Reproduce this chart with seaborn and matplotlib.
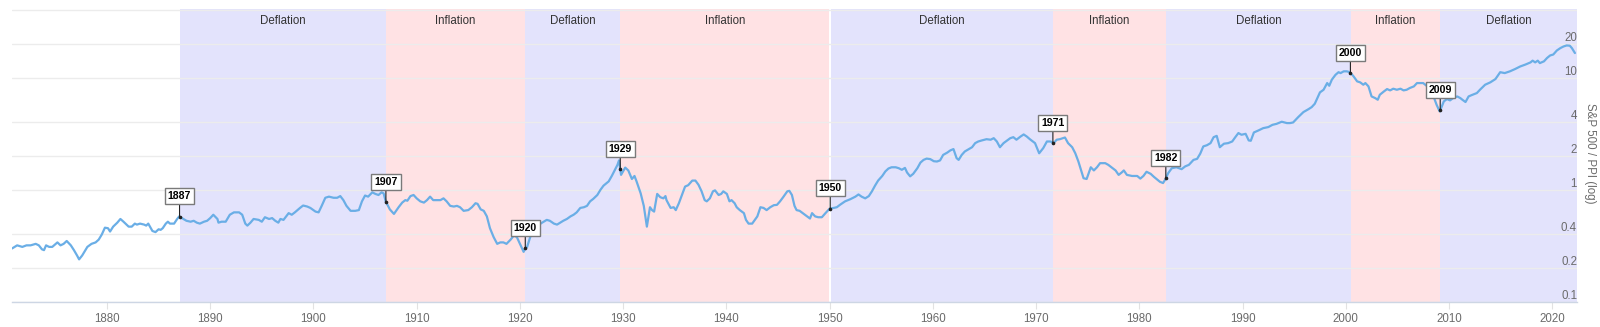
import numpy as np
import pandas as pd
import matplotlib
matplotlib.use("Agg")
import matplotlib.pyplot as plt
import seaborn as sns
from matplotlib.ticker import FixedLocator, NullLocator, FixedFormatter

# ---------------- data ----------------
years = [
    1870.8, 1871.3, 1871.8, 1872.2, 1872.6, 1873.1, 1873.4, 1873.7, 1873.9, 1874.1,
    1874.4, 1874.7, 1875.2, 1875.5, 1875.8, 1876.1, 1876.5, 1876.8, 1877.1, 1877.3,
    1877.6, 1878.1, 1878.5, 1878.9, 1879.2, 1879.5, 1879.8, 1880.1, 1880.3, 1880.6,
    1881.0, 1881.3, 1881.6, 1882.1, 1882.4, 1882.7, 1882.9, 1883.2, 1883.6, 1883.8,
    1884.0, 1884.4, 1884.7, 1885.0, 1885.2, 1885.4, 1885.7, 1885.9, 1886.1, 1886.5,
    1886.8, 1887.0, 1887.4, 1887.7, 1888.1, 1888.4, 1888.7, 1889.0, 1889.4, 1889.7,
    1890.0, 1890.3, 1890.7, 1890.8, 1891.1, 1891.5, 1891.9, 1892.3, 1892.8, 1893.1,
    1893.4, 1893.6, 1893.9, 1894.2, 1894.7, 1895.0, 1895.3, 1895.7, 1896.0, 1896.3,
    1896.6, 1896.8, 1897.1, 1897.6, 1897.9, 1898.2, 1898.7, 1899.0, 1899.4, 1899.7,
    1900.2, 1900.5, 1900.8, 1901.15, 1901.5, 1901.95, 1902.3, 1902.6, 1902.9, 1903.2,
    1903.6, 1904.05, 1904.4, 1904.7, 1905.0, 1905.3, 1905.7, 1906.0, 1906.3, 1906.6,
    1906.8, 1907.0, 1907.4, 1907.8, 1908.25, 1908.6, 1908.9, 1909.1, 1909.4, 1909.7,
    1910.0, 1910.35, 1910.7, 1911.0, 1911.3, 1911.6, 1912.0, 1912.3, 1912.6, 1912.9,
    1913.25, 1913.6, 1913.9, 1914.2, 1914.55, 1915.0, 1915.35, 1915.7, 1915.9, 1916.2,
    1916.5, 1916.8, 1917.1, 1917.45, 1917.8, 1918.1, 1918.4, 1918.7, 1919.1, 1919.4,
    1919.7, 1920.0, 1920.36, 1920.5, 1920.7, 1921.0, 1921.3, 1921.65, 1922.0, 1922.3,
    1922.6, 1922.9, 1923.3, 1923.6, 1923.9, 1924.2, 1924.55, 1924.9, 1925.2, 1925.5,
    1925.85, 1926.2, 1926.5, 1926.8, 1927.1, 1927.5, 1927.8, 1928.1, 1928.6, 1928.9,
    1929.2, 1929.45, 1929.6, 1929.8, 1930.2, 1930.5, 1930.85, 1931.1, 1931.3, 1931.7,
    1932.0, 1932.3, 1932.6, 1932.8, 1933.0, 1933.3, 1933.6, 1933.9, 1934.1, 1934.2,
    1934.6, 1934.9, 1935.1, 1935.4, 1935.7, 1936.0, 1936.3, 1936.7, 1937.0, 1937.3,
    1937.6, 1937.9, 1938.1, 1938.4, 1938.7, 1938.9, 1939.25, 1939.5, 1939.7, 1940.05,
    1940.3, 1940.5, 1940.8, 1941.0, 1941.3, 1941.7, 1941.9, 1942.15, 1942.5, 1943.0,
    1943.3, 1943.6, 1943.9, 1944.25, 1944.6, 1944.9, 1945.2, 1945.5, 1945.9, 1946.1,
    1946.35, 1946.6, 1946.8, 1947.1, 1947.5, 1947.8, 1948.1, 1948.3, 1948.6, 1948.9,
    1949.25, 1949.6, 1950.0, 1950.4, 1950.7, 1951.0, 1951.5, 1952.0, 1952.5, 1952.8,
    1953.1, 1953.45, 1953.8, 1954.1, 1954.4, 1954.7, 1955.1, 1955.4, 1955.7, 1956.0,
    1956.4, 1956.7, 1957.0, 1957.3, 1957.5, 1957.8, 1958.1, 1958.5, 1958.8, 1959.1,
    1959.4, 1959.75, 1960.1, 1960.4, 1960.7, 1961.0, 1961.4, 1961.7, 1962.0, 1962.3,
    1962.5, 1962.8, 1963.1, 1963.5, 1963.8, 1964.1, 1964.4, 1964.75, 1965.2, 1965.6,
    1965.9, 1966.2, 1966.5, 1966.85, 1967.2, 1967.5, 1967.8, 1968.1, 1968.5, 1968.8,
    1969.1, 1969.4, 1969.9, 1970.3, 1970.7, 1971.05, 1971.4, 1971.7, 1972.0, 1972.3,
    1972.8, 1973.1, 1973.5, 1973.8, 1974.1, 1974.4, 1974.6, 1974.9, 1975.1, 1975.3,
    1975.6, 1975.9, 1976.2, 1976.7, 1977.0, 1977.3, 1977.7, 1978.0, 1978.3, 1978.5,
    1978.8, 1979.3, 1979.8, 1980.1, 1980.4, 1980.7, 1981.1, 1981.4, 1981.7, 1982.0,
    1982.3, 1982.5, 1982.8, 1983.15, 1983.6, 1984.1, 1984.45, 1984.8, 1985.25, 1985.6,
    1985.9, 1986.2, 1986.55, 1986.9, 1987.2, 1987.5, 1987.8, 1988.2, 1988.6, 1989.0,
    1989.3, 1989.6, 1989.9, 1990.3, 1990.6, 1990.8, 1991.1, 1991.55, 1992.0, 1992.5,
    1992.9, 1993.3, 1993.8, 1994.3, 1994.6, 1994.9, 1995.4, 1995.9, 1996.4, 1996.7,
    1997.0, 1997.5, 1997.85, 1998.2, 1998.4, 1998.65, 1999.0, 1999.3, 1999.5, 1999.8,
    2000.1, 2000.4, 2000.75, 2001.1, 2001.4, 2001.7, 2001.9, 2002.2, 2002.5, 2002.85,
    2003.1, 2003.3, 2003.7, 2004.0, 2004.3, 2004.6, 2004.95, 2005.3, 2005.6, 2005.9,
    2006.2, 2006.6, 2006.9, 2007.2, 2007.5, 2007.9, 2008.2, 2008.5, 2008.8, 2009.1,
    2009.2, 2009.5, 2009.8, 2010.1, 2010.4, 2010.8, 2011.1, 2011.3, 2011.6, 2011.9,
    2012.2, 2012.7, 2013.0, 2013.5, 2014.0, 2014.5, 2014.96, 2015.4, 2015.9, 2016.4,
    2016.9, 2017.4, 2017.9, 2018.1, 2018.35, 2018.6, 2018.8, 2019.2, 2019.5, 2019.8,
    2020.1, 2020.45, 2020.8, 2021.1, 2021.4, 2021.7, 2021.9, 2022.2,
]
ratio = [
    0.30, 0.32, 0.31, 0.32, 0.32, 0.33, 0.32, 0.295, 0.29, 0.32,
    0.31, 0.31, 0.34, 0.32, 0.33, 0.35, 0.32, 0.29, 0.26, 0.24,
    0.26, 0.31, 0.33, 0.34, 0.36, 0.40, 0.46, 0.455, 0.425, 0.47,
    0.51, 0.55, 0.52, 0.47, 0.47, 0.50, 0.49, 0.50, 0.49, 0.48,
    0.50, 0.43, 0.42, 0.445, 0.44, 0.455, 0.50, 0.52, 0.50, 0.50,
    0.55, 0.58, 0.55, 0.53, 0.52, 0.53, 0.51, 0.50, 0.52, 0.53,
    0.56, 0.60, 0.55, 0.51, 0.52, 0.52, 0.60, 0.63, 0.63, 0.60,
    0.50, 0.48, 0.51, 0.55, 0.54, 0.52, 0.57, 0.55, 0.56, 0.53,
    0.51, 0.55, 0.54, 0.62, 0.60, 0.63, 0.69, 0.725, 0.71, 0.69,
    0.64, 0.63, 0.72, 0.85, 0.87, 0.85, 0.85, 0.88, 0.81, 0.72,
    0.65, 0.65, 0.66, 0.79, 0.89, 0.87, 0.95, 0.92, 0.90, 0.95,
    0.93, 0.79, 0.67, 0.61, 0.70, 0.77, 0.81, 0.80, 0.88, 0.90,
    0.84, 0.79, 0.77, 0.81, 0.87, 0.81, 0.81, 0.81, 0.84, 0.79,
    0.72, 0.71, 0.72, 0.70, 0.65, 0.66, 0.70, 0.76, 0.75, 0.67,
    0.65, 0.58, 0.455, 0.38, 0.33, 0.34, 0.34, 0.33, 0.36, 0.39,
    0.38, 0.33, 0.28, 0.30, 0.31, 0.38, 0.425, 0.445, 0.50, 0.52,
    0.54, 0.53, 0.50, 0.49, 0.51, 0.53, 0.55, 0.58, 0.60, 0.63,
    0.69, 0.70, 0.72, 0.79, 0.83, 0.90, 1.0, 1.09, 1.19, 1.33,
    1.51, 1.67, 1.83, 1.36, 1.58, 1.49, 1.25, 1.33, 1.19, 0.93,
    0.72, 0.47, 0.70, 0.66, 0.64, 0.92, 0.86, 0.84, 0.88, 0.81,
    0.69, 0.70, 0.66, 0.76, 0.90, 1.07, 1.10, 1.21, 1.21, 1.11,
    0.97, 0.81, 0.79, 0.84, 0.97, 0.99, 0.90, 0.92, 0.97, 0.92,
    0.79, 0.81, 0.76, 0.70, 0.66, 0.62, 0.54, 0.50, 0.50, 0.58,
    0.70, 0.69, 0.66, 0.70, 0.73, 0.735, 0.79, 0.86, 0.97, 0.98,
    0.90, 0.72, 0.66, 0.65, 0.61, 0.58, 0.555, 0.62, 0.58, 0.57,
    0.57, 0.62, 0.68, 0.69, 0.70, 0.735, 0.79, 0.825, 0.87, 0.91,
    0.87, 0.84, 0.88, 0.97, 1.09, 1.21, 1.33, 1.46, 1.55, 1.59,
    1.59, 1.56, 1.51, 1.57, 1.43, 1.32, 1.39, 1.56, 1.75, 1.85,
    1.90, 1.88, 1.80, 1.79, 1.83, 2.05, 2.15, 2.25, 2.31, 1.92,
    1.85, 2.05, 2.20, 2.31, 2.40, 2.61, 2.70, 2.76, 2.83, 2.80,
    2.89, 2.70, 2.40, 2.61, 2.76, 2.89, 2.95, 2.80, 2.99, 3.12,
    2.99, 2.83, 2.61, 2.12, 2.36, 2.70, 2.70, 2.61, 2.80, 2.83,
    2.93, 2.61, 2.40, 2.12, 1.79, 1.46, 1.27, 1.25, 1.41, 1.59,
    1.49, 1.59, 1.73, 1.73, 1.67, 1.59, 1.49, 1.36, 1.43, 1.49,
    1.36, 1.33, 1.33, 1.26, 1.33, 1.45, 1.39, 1.31, 1.245, 1.18,
    1.15, 1.23, 1.41, 1.56, 1.59, 1.53, 1.62, 1.67, 1.85, 1.89,
    2.10, 2.44, 2.50, 2.61, 2.95, 3.03, 2.40, 2.58, 2.61, 2.70,
    2.95, 3.21, 3.10, 3.16, 2.76, 2.74, 3.25, 3.39, 3.55, 3.63,
    3.80, 3.88, 4.05, 3.94, 3.94, 3.99, 4.46, 4.94, 5.25, 5.47,
    5.86, 7.40, 7.81, 8.96, 8.48, 9.60, 10.6, 11.2, 11.0, 11.4,
    11.4, 11.2, 10.3, 9.28, 9.09, 8.66, 8.96, 8.37, 6.81, 6.58,
    6.36, 7.05, 7.55, 7.92, 7.71, 7.98, 7.81, 7.98, 7.71, 7.81,
    8.09, 8.37, 8.96, 8.96, 8.96, 8.37, 7.92, 6.81, 5.74, 5.00,
    5.25, 6.15, 6.45, 6.28, 6.58, 6.81, 6.58, 6.36, 6.07, 6.81,
    7.00, 7.30, 7.81, 8.66, 9.09, 9.73, 11.2, 11.0, 11.4, 11.95,
    12.6, 13.1, 13.7, 14.2, 13.7, 14.2, 13.5, 14.0, 15.0, 15.8,
    16.1, 17.5, 18.4, 19.0, 19.4, 19.3, 18.4, 16.6,
]

band_starts = [1887.03, 1907.02, 1920.52, 1929.72, 1950.1, 1971.63, 1982.57, 2000.5, 2009.15]
band_ends = [1907.02, 1920.52, 1929.72, 1949.98, 1971.63, 1982.57, 2000.5, 2009.15, 2022.4]
band_labels = ["Deflation", "Inflation", "Deflation", "Inflation", "Deflation",
               "Inflation", "Deflation", "Inflation", "Deflation"]

event_years = [1887.03, 1907.02, 1920.52, 1929.72, 1950.06, 1971.63, 1982.57, 2000.45, 2009.15]
event_labels = ["1887", "1907", "1920", "1929", "1950", "1971", "1982", "2000", "2009"]

y_ticks = [0.1, 0.2, 0.4, 1, 2, 4, 10, 20]
y_tick_labels = ["0.1", "0.2", "0.4", "1", "2", "4", "10", "20"]
x_ticks = [1880, 1890, 1900, 1910, 1920, 1930, 1940, 1950, 1960, 1970, 1980, 1990, 2000, 2010, 2020]

# ---------------- style ----------------
sns.set_theme(style="white")
plt.rcParams["font.family"] = ["Liberation Sans", "DejaVu Sans"]

band_colors = {"Deflation": "#e3e3fc", "Inflation": "#ffe2e4"}
line_color = "#6aaee6"
grid_color = "#ececec"
text_gray = "#6b6b6b"

fig = plt.figure(figsize=(16, 3.27), dpi=100)
ax = fig.add_axes([12 / 1600, 25 / 327, (1577 - 12) / 1600, (302 - 9) / 327])

df = pd.DataFrame({"year": years, "ratio": ratio})

# regime bands
for s, e, lab in zip(band_starts, band_ends, band_labels):
    ax.axvspan(s, e, color=band_colors[lab], lw=0, zorder=0.2)
    ax.text((s + e) / 2, 1 - 12 / 293, lab, transform=ax.get_xaxis_transform(),
            ha="center", va="center", fontsize=8.3, color="#333333", zorder=5)

sns.lineplot(data=df, x="year", y="ratio", ax=ax, color=line_color, lw=1.6,
             zorder=3, legend=False)

ax.set_yscale("log")
ax.set_ylim(0.1, 41)
ax.set_xlim(1870.8, 2022.4)

# grid
ax.set_axisbelow(True)
ax.yaxis.set_major_locator(FixedLocator(y_ticks + [40]))
ax.yaxis.set_major_formatter(FixedFormatter(y_tick_labels + [""]))
ax.yaxis.set_minor_locator(NullLocator())
ax.grid(axis="y", color=grid_color, lw=1.0)
ax.grid(axis="x", visible=False)

ax.yaxis.tick_right()
ax.tick_params(axis="y", which="both", length=0, pad=0, labelsize=8.3,
               labelcolor=text_gray, labelright=True, labelleft=False)
for lab in ax.get_yticklabels():
    lab.set_horizontalalignment("right")
    lab.set_verticalalignment("bottom")

ax.set_xticks(x_ticks)
ax.set_xticklabels([str(v) for v in x_ticks])
ax.tick_params(axis="x", length=5, width=0.8, color="#e2e2e2", pad=3,
               labelsize=8.3, labelcolor=text_gray, bottom=True)

for side in ["top", "left", "right"]:
    ax.spines[side].set_visible(False)
ax.spines["bottom"].set_color("#cdd6e4")
ax.spines["bottom"].set_linewidth(1.0)

ax.set_xlabel("")
ax.set_ylabel("")
fig.text(1590 / 1600, 1 - 153 / 327, "S&P 500 / PPI (log)", rotation=-90,
         ha="center", va="center", fontsize=8.3, color=text_gray)

# event annotations
log_vals = np.log10(np.array(ratio))
for yr, lab in zip(event_years, event_labels):
    val = 10 ** np.interp(yr, np.array(years), log_vals)
    ax.plot([yr], [val], marker="o", ms=1.6, color="#222222", zorder=6)
    ax.annotate(lab, xy=(yr, val), xytext=(0, 14.5), textcoords="offset points",
                ha="center", va="center", fontsize=7.6, fontweight="bold",
                color="black", zorder=7,
                bbox=dict(boxstyle="square,pad=0.28", fc="white", ec="#7a7a7a", lw=1.0),
                arrowprops=dict(arrowstyle="-", color="#222222", lw=0.8,
                                shrinkA=0, shrinkB=0))

fig.savefig("out.png", dpi=100)
